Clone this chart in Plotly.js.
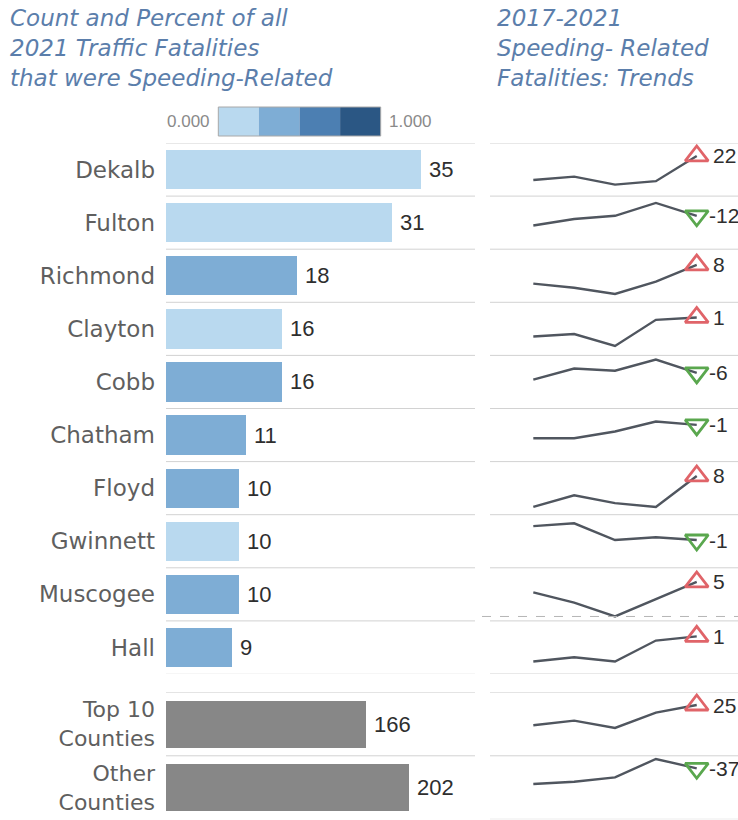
<!DOCTYPE html>
<html><head><meta charset="utf-8">
<script src="https://cdn.plot.ly/plotly-3.0.1.min.js"></script>
<style>html,body{margin:0;padding:0;background:#fff}#chart{width:738px;height:820px}</style>
</head><body><div id="chart"></div>
<script>
// ---------- data ----------
const counties = ['Dekalb','Fulton','Richmond','Clayton','Cobb','Chatham','Floyd','Gwinnett','Muscogee','Hall'];
const fatalities2021 = [35,31,18,16,16,11,10,10,10,9];
// colour bin of the share of all 2021 traffic fatalities that were speeding-related (1 = 0-0.25, 2 = 0.25-0.5 ...)
const speedingShareBin = [1,1,2,1,2,2,2,1,2,2];
const groupLabels = ['Top 10<br>Counties','Other<br>Counties'];
const groupFatalities2021 = [166,202];
const years = [2017,2018,2019,2020,2021];
const trendDekalb   = [14,17,10,13,35];
const trendFulton   = [22,28,31,43,31];
const trendRichmond = [9,7,4,10,18];
const trendClayton  = [8,9,4,15,16];
const trendCobb     = [13,18,17,22,16];
const trendChatham  = [7,7,9,12,11];
const trendFloyd    = [2,5,3,2,10];
const trendGwinnett = [15,16,10,11,10];
const trendMuscogee = [7,4,0,5,10];
const trendHall     = [3,4,3,8,9];
const trendTop10    = [100,115,91,141,166];
const trendOther    = [140,149,166,239,202];
const legendTickLabels = ['0.000','1.000'];

// ---------- layout helpers ----------
const W = 738, H = 820;
const px = p => p / W;
const py = p => 1 - p / H;
const binColors = ['#b9d9ef','#7eadd5','#4c7fb2','#2b5784'];
const greyBar = '#878787';
const labelFont = {family:'"DejaVu Sans", sans-serif', size:23, color:'#5f5f5f'};
const groupFont = {family:'"DejaVu Sans", sans-serif', size:22, color:'#5f5f5f'};
const numFont = {family:'"Liberation Sans", Arial, sans-serif', size:22, color:'#2e2e2e'};
const sparkNumFont = {family:'"Liberation Sans", Arial, sans-serif', size:21, color:'#2e2e2e'};
const titleFont = {family:'"DejaVu Sans", sans-serif', size:23, color:'#5b7eab'};

const rowTop = 143, rowPitch = 53.1;
const grpTop = 692.3, grpPitch = 63.5;
const barLeft = 166, barRight = 475, sparkLeft = 490;

const trendRows = [trendDekalb,trendFulton,trendRichmond,trendClayton,trendCobb,trendChatham,
                   trendFloyd,trendGwinnett,trendMuscogee,trendHall,trendTop10,trendOther];
const sparkRanges = [[0,46.3],[0,49.3],[0,25.6],[0,22.4],[0,23.9],[0,15.9],[0,13.7],[0,19.1],
                     [-1.28,14.1],[0,12.7],[0,207.5],[0,251.5]];

const traces = [];
traces.push({
  type:'bar', orientation:'h', x:fatalities2021, y:counties, xaxis:'x', yaxis:'y',
  width:0.74, marker:{color:speedingShareBin.map(b => binColors[b-1])}, hoverinfo:'skip'
});
traces.push({
  type:'bar', orientation:'h', x:groupFatalities2021, y:groupLabels, xaxis:'x2', yaxis:'y2',
  width:0.74, marker:{color:greyBar}, hoverinfo:'skip'
});

const layout = {
  width:W, height:H, margin:{l:0,r:0,t:0,b:0}, paper_bgcolor:'#fff', plot_bgcolor:'rgba(0,0,0,0)',
  showlegend:false, bargap:0,
  xaxis:{domain:[px(barLeft),px(barRight)], range:[0,42.44], visible:false, anchor:'y', fixedrange:true},
  xaxis2:{domain:[px(barLeft),px(barRight)], range:[0,256.9], visible:false, anchor:'y2', fixedrange:true},
  xaxis3:{domain:[px(sparkLeft),1], range:[2015.94,2022.01], visible:false, anchor:'y3', fixedrange:true},
  yaxis:{domain:[py(rowTop+rowPitch*10), py(rowTop)], type:'category', categoryarray:counties,
         range:[9.5,-0.5], anchor:'x', showgrid:false, zeroline:false, showline:false, ticks:'',
         ticklabelstandoff:10, tickfont:labelFont, fixedrange:true},
  yaxis2:{domain:[py(grpTop+grpPitch*2), py(grpTop)], type:'category', categoryarray:groupLabels,
         range:[1.5,-0.5], anchor:'x2', showgrid:false, zeroline:false, showline:false, ticks:'',
         ticklabelstandoff:10, tickfont:groupFont, fixedrange:true},
  shapes:[], annotations:[]
};

// sparklines
trendRows.forEach((vals, i) => {
  const k = i + 3;
  const top = i < 10 ? rowTop + rowPitch*i : grpTop + grpPitch*(i-10);
  const bot = i < 10 ? top + rowPitch : top + grpPitch;
  layout['yaxis'+k] = {domain:[py(bot), py(top)], range:sparkRanges[i], visible:false, anchor:'x3', fixedrange:true};
  traces.push({type:'scatter', mode:'lines', x:years, y:vals, xaxis:'x3', yaxis:'y'+k,
               line:{color:'#50565f', width:2.4}, hoverinfo:'skip'});
  const last = vals[vals.length-1], prev = vals[vals.length-2];
  const change = last - prev;
  const up = change > 0;
  traces.push({type:'scatter', mode:'markers', x:[years[years.length-1]], y:[last], xaxis:'x3', yaxis:'y'+k,
               marker:{symbol: up ? 'triangle-up-open' : 'triangle-down-open', size:20,
                       color: up ? '#e06469' : '#5aa74e', line:{width:2.8}}, hoverinfo:'skip'});
  layout.annotations.push({x:years[years.length-1], y:last, xref:'x3', yref:'y'+k, text:String(change),
               xanchor:'left', yanchor:'middle', xshift: up ? 14 : 10, showarrow:false, font:sparkNumFont});
});

// bar value labels
counties.forEach((c, i) => {
  layout.annotations.push({x:fatalities2021[i], y:c, xref:'x', yref:'y', text:String(fatalities2021[i]),
    xanchor:'left', yanchor:'middle', xshift:6, showarrow:false, font:numFont});
});
groupLabels.forEach((g, i) => {
  layout.annotations.push({x:groupFatalities2021[i], y:g, xref:'x2', yref:'y2', text:String(groupFatalities2021[i]),
    xanchor:'left', yanchor:'middle', xshift:6, showarrow:false, font:numFont});
});

// row separator lines
for (let b = 0; b <= 10; b++) {
  layout.shapes.push({type:'line', xref:'paper', yref:'y', x0:px(barLeft), x1:px(barRight), y0:b-0.5, y1:b-0.5,
                      line:{color: b === 10 ? '#ececec' : '#d2d2d2', width:1}});
  layout.shapes.push({type:'line', xref:'paper', yref:'y', x0:px(sparkLeft), x1:1, y0:b-0.5, y1:b-0.5,
                      line:{color:'#d2d2d2', width:1}});
}
for (let b = 0; b <= 2; b++) {
  if (b < 2) layout.shapes.push({type:'line', xref:'paper', yref:'y2', x0:px(barLeft), x1:px(barRight), y0:b-0.5, y1:b-0.5,
                      line:{color:'#d2d2d2', width:1}});
  layout.shapes.push({type:'line', xref:'paper', yref:'y2', x0:px(sparkLeft), x1:1, y0:b-0.5, y1:b-0.5,
                      line:{color:'#d2d2d2', width:1}});
}
// zero line of the Muscogee trend axis
layout.shapes.push({type:'line', xref:'paper', yref:'y11', x0:px(sparkLeft-8), x1:1, y0:0, y1:0,
                    line:{color:'#b5b5b5', width:1, dash:'dash'}});

// colour legend
const lgL = 218.3, lgR = 380.7, lgT = 107, lgB = 136;
binColors.forEach((c, i) => {
  const w = (lgR - lgL) / binColors.length;
  layout.shapes.push({type:'rect', xref:'paper', yref:'paper', x0:px(lgL + w*i), x1:px(lgL + w*(i+1)),
                      y0:py(lgB), y1:py(lgT), fillcolor:c, line:{width:0}});
});
layout.shapes.push({type:'rect', xref:'paper', yref:'paper', x0:px(lgL), x1:px(lgR), y0:py(lgB), y1:py(lgT),
                    fillcolor:'rgba(0,0,0,0)', line:{color:'#a8a8a8', width:1}});
const legendFont = {family:'"Liberation Sans", Arial, sans-serif', size:17, color:'#8a8a8a'};
layout.annotations.push({x:px(lgL-6), y:py(121.5), xref:'paper', yref:'paper', text:legendTickLabels[0],
  xanchor:'right', yanchor:'middle', showarrow:false, font:legendFont});
layout.annotations.push({x:px(lgR+6), y:py(121.5), xref:'paper', yref:'paper', text:legendTickLabels[1],
  xanchor:'left', yanchor:'middle', showarrow:false, font:legendFont});

// titles
layout.annotations.push({x:px(8), y:py(3), xref:'paper', yref:'paper', xanchor:'left', yanchor:'top', align:'left',
  text:'<i>Count and Percent of all<br>2021 Traffic Fatalities<br>that were Speeding-Related</i>',
  showarrow:false, font:titleFont});
layout.annotations.push({x:px(495), y:py(3), xref:'paper', yref:'paper', xanchor:'left', yanchor:'top', align:'left',
  text:'<i>2017-2021<br>Speeding- Related<br>Fatalities: Trends</i>',
  showarrow:false, font:titleFont});

Plotly.newPlot('chart', traces, layout, {displayModeBar:false, staticPlot:true});
</script>
</body></html>
